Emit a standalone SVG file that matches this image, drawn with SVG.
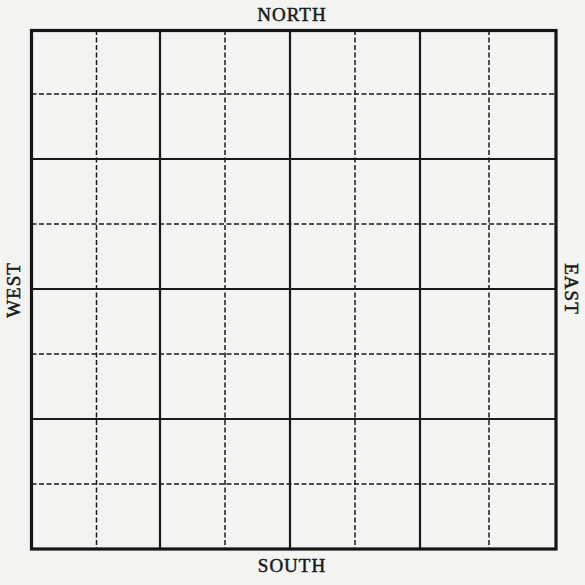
<svg xmlns="http://www.w3.org/2000/svg" width="585" height="585" viewBox="0 0 585 585">
<style>
.solid{stroke:#1a1a1a;stroke-width:2.2;fill:none}
.dash{stroke:#1a1a1a;stroke-width:1.5;stroke-dasharray:5 2.5;fill:none}
.border{stroke:#151515;stroke-width:3.2;fill:none}
.lbl{font-family:"Liberation Serif","DejaVu Serif",serif;font-size:19px;font-weight:normal;fill:#1a1a1a;stroke:#1a1a1a;stroke-width:0.5;letter-spacing:1px;text-anchor:middle}
</style>
<rect width="585" height="585" fill="#f3f3f1"/>
<g id="grid">
<g id="dashed">
<path class="dash" d="M96.5 30V549M225 30V549M355 30V549M489 30V549"/>
<path class="dash" d="M31.5 94H556M31.5 224H556M31.5 354H556M31.5 484H556"/>
</g>
<g id="solid">
<path class="solid" d="M160 30V549M290 30V549M420 30V549"/>
<path class="solid" d="M31.5 159H556M31.5 289H556M31.5 419H556"/>
</g>
<rect id="border" class="border" x="31.5" y="30.5" width="524.5" height="518.5"/>
</g>
<g id="labels">
<text id="north" class="lbl" x="292" y="21">NORTH</text>
<text id="south" class="lbl" x="292" y="572">SOUTH</text>
<text id="west" class="lbl" transform="translate(19.5 290) rotate(-90)">WEST</text>
<text id="east" class="lbl" transform="translate(565 289) rotate(90)">EAST</text>
</g>
</svg>
